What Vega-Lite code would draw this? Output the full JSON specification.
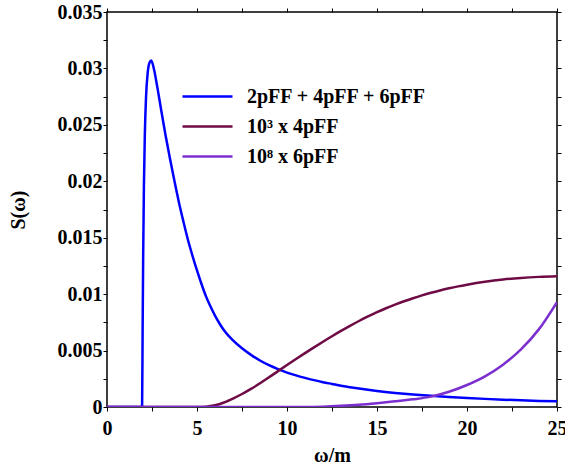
{
  "$schema": "https://vega.github.io/schema/vega-lite/v6.json",
  "autosize": {"type": "none"},
  "width": 450,
  "height": 395,
  "padding": {"left": 107, "top": 12, "right": 8, "bottom": 59},
  "background": "white",
  "config": {
    "view": {"stroke": "black", "strokeWidth": 1.5},
    "font": "Liberation Serif",
    "axis": {
      "labelFont": "Liberation Serif", "labelFontWeight": "bold", "labelFontSize": 20, "labelColor": "black",
      "titleFont": "Liberation Serif", "titleFontWeight": "bold", "titleFontSize": 20, "titleColor": "black",
      "grid": false, "domain": false, "ticks": true, "tickSize": 4, "tickColor": "black", "tickWidth": 1
    }
  },
  "data": {"values": [
    {"s": "a", "x": 0, "y": 0}, {"s": "a", "x": 1.95, "y": 0}, {"s": "a", "x": 1.98, "y": 0.007},
    {"s": "a", "x": 2.01, "y": 0.0135}, {"s": "a", "x": 2.05, "y": 0.0195}, {"s": "a", "x": 2.1, "y": 0.024},
    {"s": "a", "x": 2.17, "y": 0.0275}, {"s": "a", "x": 2.26, "y": 0.0296}, {"s": "a", "x": 2.36, "y": 0.0305},
    {"s": "a", "x": 2.46, "y": 0.0307}, {"s": "a", "x": 2.6, "y": 0.03}, {"s": "a", "x": 2.8, "y": 0.0283},
    {"s": "a", "x": 3.0, "y": 0.0264}, {"s": "a", "x": 3.25, "y": 0.0241}, {"s": "a", "x": 3.5, "y": 0.022},
    {"s": "a", "x": 3.75, "y": 0.02}, {"s": "a", "x": 4.0, "y": 0.0181}, {"s": "a", "x": 4.25, "y": 0.0164},
    {"s": "a", "x": 4.5, "y": 0.0148}, {"s": "a", "x": 4.75, "y": 0.0134}, {"s": "a", "x": 5.0, "y": 0.0121},
    {"s": "a", "x": 5.25, "y": 0.0109}, {"s": "a", "x": 5.5, "y": 0.0098}, {"s": "a", "x": 5.75, "y": 0.0089},
    {"s": "a", "x": 6.0, "y": 0.0081}, {"s": "a", "x": 6.25, "y": 0.0074}, {"s": "a", "x": 6.5, "y": 0.0068},
    {"s": "a", "x": 7.0, "y": 0.0059}, {"s": "a", "x": 7.5, "y": 0.0052}, {"s": "a", "x": 8.0, "y": 0.00462},
    {"s": "a", "x": 8.5, "y": 0.00412}, {"s": "a", "x": 9.0, "y": 0.0037}, {"s": "a", "x": 9.5, "y": 0.00335},
    {"s": "a", "x": 10, "y": 0.00305}, {"s": "a", "x": 10.5, "y": 0.0028}, {"s": "a", "x": 11, "y": 0.00258},
    {"s": "a", "x": 11.5, "y": 0.00238}, {"s": "a", "x": 12, "y": 0.0022}, {"s": "a", "x": 12.5, "y": 0.00204},
    {"s": "a", "x": 13, "y": 0.00188}, {"s": "a", "x": 13.5, "y": 0.00175}, {"s": "a", "x": 14, "y": 0.00163},
    {"s": "a", "x": 14.5, "y": 0.00152}, {"s": "a", "x": 15, "y": 0.00142}, {"s": "a", "x": 16, "y": 0.00125},
    {"s": "a", "x": 17, "y": 0.00111}, {"s": "a", "x": 18, "y": 0.00099}, {"s": "a", "x": 19, "y": 0.00089},
    {"s": "a", "x": 20, "y": 0.0008}, {"s": "a", "x": 21, "y": 0.00072}, {"s": "a", "x": 22, "y": 0.00065},
    {"s": "a", "x": 23, "y": 0.00059}, {"s": "a", "x": 24, "y": 0.00054}, {"s": "a", "x": 25, "y": 0.0005},
    {"s": "b", "x": 0, "y": 0}, {"s": "b", "x": 5.0, "y": 0}, {"s": "b", "x": 5.5, "y": 0.00003},
    {"s": "b", "x": 6.0, "y": 0.00015}, {"s": "b", "x": 6.5, "y": 0.0004}, {"s": "b", "x": 7.0, "y": 0.00075},
    {"s": "b", "x": 7.5, "y": 0.00115}, {"s": "b", "x": 8.0, "y": 0.0016}, {"s": "b", "x": 8.5, "y": 0.0021},
    {"s": "b", "x": 9.0, "y": 0.00263}, {"s": "b", "x": 9.5, "y": 0.00318}, {"s": "b", "x": 10.0, "y": 0.00372},
    {"s": "b", "x": 10.5, "y": 0.00425}, {"s": "b", "x": 11.0, "y": 0.00477}, {"s": "b", "x": 11.5, "y": 0.00528},
    {"s": "b", "x": 12.0, "y": 0.00578}, {"s": "b", "x": 12.5, "y": 0.00627}, {"s": "b", "x": 13.0, "y": 0.00674},
    {"s": "b", "x": 13.5, "y": 0.00719}, {"s": "b", "x": 14.0, "y": 0.00762}, {"s": "b", "x": 14.5, "y": 0.00802},
    {"s": "b", "x": 15.0, "y": 0.0084}, {"s": "b", "x": 15.5, "y": 0.00875}, {"s": "b", "x": 16.0, "y": 0.00907},
    {"s": "b", "x": 16.5, "y": 0.00937}, {"s": "b", "x": 17.0, "y": 0.00964}, {"s": "b", "x": 17.5, "y": 0.00989},
    {"s": "b", "x": 18.0, "y": 0.01012}, {"s": "b", "x": 18.5, "y": 0.01033}, {"s": "b", "x": 19.0, "y": 0.01052},
    {"s": "b", "x": 19.5, "y": 0.01069}, {"s": "b", "x": 20.0, "y": 0.01084}, {"s": "b", "x": 21.0, "y": 0.0111},
    {"s": "b", "x": 22.0, "y": 0.0113}, {"s": "b", "x": 23.0, "y": 0.01144}, {"s": "b", "x": 24.0, "y": 0.01153},
    {"s": "b", "x": 25.0, "y": 0.01158},
    {"s": "c", "x": 0, "y": 0}, {"s": "c", "x": 11, "y": 0}, {"s": "c", "x": 12, "y": 0.00003},
    {"s": "c", "x": 13, "y": 0.0001}, {"s": "c", "x": 14, "y": 0.0002}, {"s": "c", "x": 15, "y": 0.00034},
    {"s": "c", "x": 16, "y": 0.0005}, {"s": "c", "x": 17, "y": 0.00068}, {"s": "c", "x": 18, "y": 0.00092},
    {"s": "c", "x": 19, "y": 0.00135}, {"s": "c", "x": 20, "y": 0.00195}, {"s": "c", "x": 21, "y": 0.00272},
    {"s": "c", "x": 22, "y": 0.00375}, {"s": "c", "x": 23, "y": 0.0051}, {"s": "c", "x": 24, "y": 0.0069},
    {"s": "c", "x": 25, "y": 0.0093}
  ]},
  "layer": [
    {
      "mark": {"type": "line", "interpolate": "monotone", "strokeWidth": 2.5, "clip": true},
      "encoding": {
        "x": {"field": "x", "type": "quantitative", "scale": {"domain": [0, 25], "nice": false},
          "axis": {"orient": "bottom", "title": "ω/m", "values": [0, 2.5, 5, 7.5, 10, 12.5, 15, 17.5, 20, 22.5, 25],
            "labelExpr": "datum.value % 5 == 0 ? datum.label : ''", "labelPadding": 7,
            "titleY": 48, "titleBaseline": "middle", "labelFlush": false}},
        "y": {"field": "y", "type": "quantitative", "scale": {"domain": [0, 0.035], "nice": false},
          "axis": {"orient": "left", "title": "S(ω)",
            "values": [0, 0.0025, 0.005, 0.0075, 0.01, 0.0125, 0.015, 0.0175, 0.02, 0.0225, 0.025, 0.0275, 0.03, 0.0325, 0.035],
            "labelExpr": "round(datum.value * 10000) % 50 == 0 ? format(datum.value, '~g') : ''",
            "labelPadding": 1, "titleX": -89, "titleBaseline": "middle", "labelFlush": false}},
        "color": {"field": "s", "type": "nominal",
          "scale": {"domain": ["a", "b", "c"], "range": ["#0000ff", "#6e0b45", "#7b2fcf"]},
          "legend": {"orient": "none", "legendX": 89, "legendY": 73, "title": null,
            "labelExpr": "datum.value == 'a' ? '2pFF + 4pFF + 6pFF' : datum.value == 'b' ? '10³ x 4pFF' : '10⁸ x 6pFF'",
            "symbolType": "M-2.5,0H2.5", "symbolSize": 400, "symbolStrokeWidth": 2.5,
            "labelFont": "Liberation Serif", "labelFontWeight": "bold", "labelFontSize": 20, "labelColor": "black",
            "labelOffset": 28, "rowPadding": 8, "padding": 0, "labelLimit": 400}}
      }
    },
    {
      "mark": {"type": "point", "opacity": 0},
      "encoding": {
        "x": {"field": "x", "type": "quantitative",
          "axis": {"orient": "top", "title": null, "labels": false,
            "values": [0, 2.5, 5, 7.5, 10, 12.5, 15, 17.5, 20, 22.5, 25]}},
        "y": {"field": "y", "type": "quantitative",
          "axis": {"orient": "right", "title": null, "labels": false,
            "values": [0, 0.0025, 0.005, 0.0075, 0.01, 0.0125, 0.015, 0.0175, 0.02, 0.0225, 0.025, 0.0275, 0.03, 0.0325, 0.035]}}
      }
    }
  ],
  "resolve": {"axis": {"x": "independent", "y": "independent"}}
}
